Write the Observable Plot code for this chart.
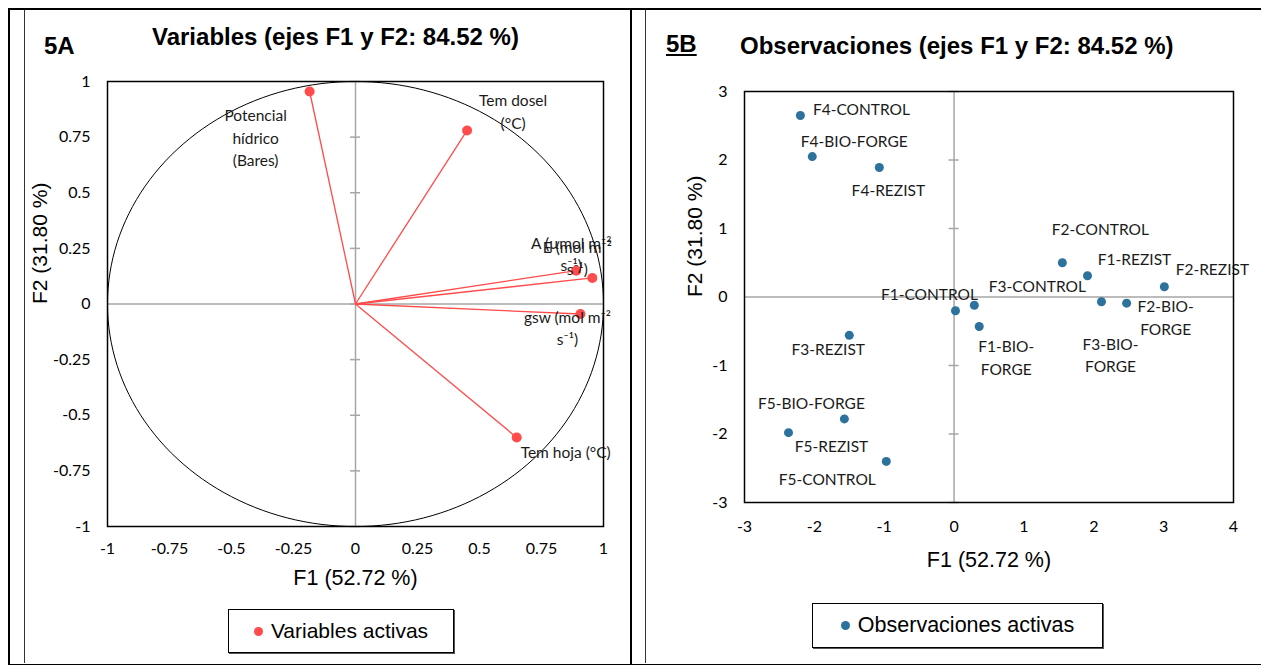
<!DOCTYPE html>
<html><head><meta charset="utf-8">
<script src="https://cdn.jsdelivr.net/npm/d3@7"></script>
<script src="https://cdn.jsdelivr.net/npm/@observablehq/plot@0.6"></script>
<style>
body{margin:0;background:#fff;}
#page{position:relative;width:1261px;height:665px;overflow:hidden;font-family:"Liberation Sans",Arial,sans-serif;color:#000;}
.abs{position:absolute;}
.title{font-weight:bold;font-size:24px;line-height:1;white-space:nowrap;}
.legend{position:absolute;border:1px solid #000;box-shadow:1px 1px 0 #555;display:flex;align-items:center;justify-content:center;font-size:21px;white-space:nowrap;}
.legend .dot{display:inline-block;width:9px;height:9px;border-radius:50%;margin-right:8px;}
</style></head><body><div id="page">
<div class="abs" style="left:8px;top:8px;width:1251px;height:654px;border:2px solid #000;box-sizing:content-box;"></div>
<div class="abs" style="left:630px;top:9px;width:2px;height:655px;background:#000;"></div>
<div class="abs" style="left:24px;top:10px;width:1px;height:653px;background:#333;"></div>
<div class="abs" style="left:645px;top:10px;width:1px;height:653px;background:#333;"></div>
<div class="abs title" style="left:44px;top:34px;">5A</div>
<div class="abs title" style="left:152px;top:25px;">Variables (ejes F1 y F2: 84.52 %)</div>
<div class="abs title" style="left:666px;top:32px;text-decoration:underline;">5B</div>
<div class="abs title" style="left:740px;top:34px;">Observaciones (ejes F1 y F2: 84.52 %)</div>
<div id="chartA" class="abs" style="left:24px;top:60px;"></div>
<div id="chartB" class="abs" style="left:648px;top:60px;"></div>
<div class="legend" style="left:228px;top:609px;width:224px;height:42px;"><span class="dot" style="background:#ff4b4b"></span>Variables activas</div>
<div class="legend" style="left:812px;top:603px;width:289px;height:43px;font-size:21.5px;"><span class="dot" style="background:#2c729c"></span>Observaciones activas</div>
</div>
<script>
// ---------- DATA ----------
// Panel 5A: active variables (correlation circle)
const varNames = ["Potencial\nhídrico\n(Bares)", "Tem dosel\n(°C)", "A (µmol m⁻²\ns⁻¹)", "E (mol m⁻²\ns⁻¹)", "gsw (mol m⁻²\ns⁻¹)", "Tem hoja (°C)"];
const varF1 = [-0.185, 0.45, 0.89, 0.955, 0.907, 0.65];
const varF2 = [0.955, 0.78, 0.15, 0.117, -0.045, -0.60];
const xTicksA = [-1, -0.75, -0.5, -0.25, 0, 0.25, 0.5, 0.75, 1];
const yTicksA = [-1, -0.75, -0.5, -0.25, 0, 0.25, 0.5, 0.75, 1];

// Panel 5B: active observations
const obsNames = ["F4-CONTROL", "F4-BIO-FORGE", "F4-REZIST", "F2-CONTROL", "F1-REZIST", "F2-REZIST", "F1-CONTROL", "F3-CONTROL", "F1-BIO-\nFORGE", "F3-BIO-\nFORGE", "F2-BIO-\nFORGE", "F3-REZIST", "F5-BIO-FORGE", "F5-REZIST", "F5-CONTROL"];
const obsF1 = [-2.20, -2.03, -1.07, 1.55, 1.91, 3.01, 0.02, 0.29, 0.36, 2.11, 2.47, -1.50, -1.57, -2.37, -0.97];
const obsF2 = [2.65, 2.05, 1.89, 0.50, 0.31, 0.15, -0.20, -0.12, -0.43, -0.07, -0.09, -0.56, -1.78, -1.98, -2.40];
const xTicksB = [-3, -2, -1, 0, 1, 2, 3, 4];
const yTicksB = [-3, -2, -1, 0, 1, 2, 3];

// ---------- LAYOUT (label offsets in px, relative to each point) ----------
const varLabelOffsets = [[-54, 45], [46, -20], [-5, -18], [-15, -21], [-13, 13], [49, 13]];
const obsLabelOffsets = [[61, -8], [42, -17], [9, 21], [38, -35], [47, -18], [48, -19], [-26, -18], [63, -20], [27, 30], [9, 52], [39, 13], [-21, 12], [-33, -17], [43, 12], [-59, 16]];

const RED = "#ff4b4b", BLUE = "#2c729c", GRAY = "#a6a6a6";
const fmt = d => String(d);
const vars = varNames.map((n, i) => ({name: n, f1: varF1[i], f2: varF2[i]}));
const obs = obsNames.map((n, i) => ({name: n, f1: obsF1[i], f2: obsF2[i]}));
const circle = d3.range(0, 361, 2).map(a => ({x: Math.cos(a * Math.PI / 180), y: Math.sin(a * Math.PI / 180)}));

// ---------- CHART A ----------
const A = {width: 600, height: 540, ml: 83, mr: 21, mt: 21, mb: 74};
const tickHalfA = 5 * 2 / (A.width - A.ml - A.mr); // 5px in x data units
const chartA = Plot.plot({
  width: A.width, height: A.height,
  marginLeft: A.ml, marginRight: A.mr, marginTop: A.mt, marginBottom: A.mb,
  style: {fontFamily: "Lato, sans-serif", fontSize: "16px", background: "transparent", overflow: "visible", color: "#000"},
  x: {domain: [-1, 1]},
  y: {domain: [-1, 1]},
  marks: [
    Plot.ruleX([0], {stroke: GRAY, strokeWidth: 1.5}),
    Plot.ruleY([0], {stroke: GRAY, strokeWidth: 1.5}),
    Plot.ruleY(yTicksA, {y: d => d, x1: -tickHalfA, x2: tickHalfA, stroke: GRAY, strokeWidth: 1.5}),
    Plot.line(circle, {x: "x", y: "y", stroke: "#000", strokeWidth: 1}),
    Plot.link(vars, {x1: 0, y1: 0, x2: "f1", y2: "f2", stroke: RED, strokeWidth: 1.3}),
    Plot.dot(vars, {x: "f1", y: "f2", r: 5, fill: RED}),
    ...vars.map((d, i) => Plot.text([d], {x: "f1", y: "f2", text: "name", dx: varLabelOffsets[i][0], dy: varLabelOffsets[i][1], fontSize: 15.5, lineHeight: 1.45, fill: "#1a1a1a"})),
    Plot.frame({stroke: "#000", strokeWidth: 1.5}),
    Plot.axisX(xTicksA, {anchor: "bottom", tickSize: 0, tickPadding: 16, tickFormat: fmt, label: null}),
    Plot.axisY(yTicksA, {anchor: "left", tickSize: 0, tickPadding: 17, tickFormat: fmt, label: null}),
    Plot.text(["F1 (52.72 %)"], {text: d => d, frameAnchor: "bottom", dy: 58, fontFamily: "Liberation Sans, Arial, sans-serif", fontSize: 21.5}),
    Plot.text(["F2 (31.80 %)"], {text: d => d, frameAnchor: "left", dx: -67, rotate: -90, fontFamily: "Liberation Sans, Arial, sans-serif", fontSize: 21})
  ]
});
document.getElementById("chartA").appendChild(chartA);

// ---------- CHART B ----------
const B = {width: 600, height: 540, ml: 96, mr: 15, mt: 31, mb: 98};
const tickHalfB = 5 * 7 / (B.width - B.ml - B.mr);
const chartB = Plot.plot({
  width: B.width, height: B.height,
  marginLeft: B.ml, marginRight: B.mr, marginTop: B.mt, marginBottom: B.mb,
  style: {fontFamily: "Lato, sans-serif", fontSize: "16px", background: "transparent", overflow: "visible", color: "#000"},
  x: {domain: [-3, 4]},
  y: {domain: [-3, 3]},
  marks: [
    Plot.ruleX([0], {stroke: GRAY, strokeWidth: 1.5}),
    Plot.ruleY([0], {stroke: GRAY, strokeWidth: 1.5}),
    Plot.ruleY(yTicksB, {y: d => d, x1: -tickHalfB, x2: tickHalfB, stroke: GRAY, strokeWidth: 1.5}),
    Plot.dot(obs, {x: "f1", y: "f2", r: 4.5, fill: BLUE}),
    ...obs.map((d, i) => Plot.text([d], {x: "f1", y: "f2", text: "name", dx: obsLabelOffsets[i][0], dy: obsLabelOffsets[i][1], fontSize: 15.5, lineHeight: 1.45, fill: "#1a1a1a"})),
    Plot.frame({stroke: "#000", strokeWidth: 1.5}),
    Plot.axisX(xTicksB, {anchor: "bottom", tickSize: 0, tickPadding: 18, tickFormat: fmt, label: null}),
    Plot.axisY(yTicksB, {anchor: "left", tickSize: 0, tickPadding: 17, tickFormat: fmt, label: null}),
    Plot.text(["F1 (52.72 %)"], {text: d => d, frameAnchor: "bottom", dy: 64, fontFamily: "Liberation Sans, Arial, sans-serif", fontSize: 21.5}),
    Plot.text(["F2 (31.80 %)"], {text: d => d, frameAnchor: "left", dx: -49, rotate: -90, fontFamily: "Liberation Sans, Arial, sans-serif", fontSize: 21})
  ]
});
document.getElementById("chartB").appendChild(chartB);
</script>
</body></html>
